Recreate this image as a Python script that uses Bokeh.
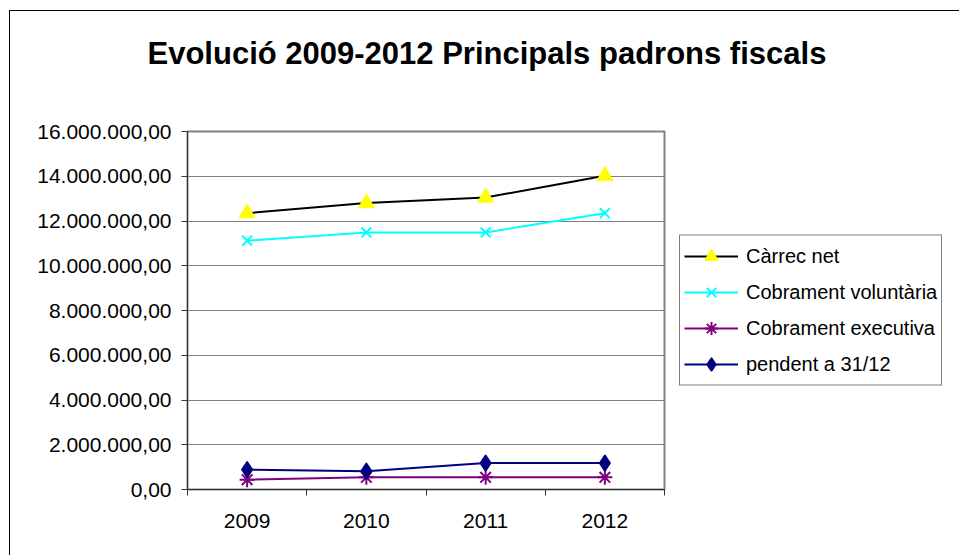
from bokeh.plotting import figure
from bokeh.models import FixedTicker, Legend, LegendItem, ColumnDataSource, Title
from bokeh.embed import file_html
from bokeh.resources import INLINE

# ---- data ----
years = ["2009", "2010", "2011", "2012"]
carrec_net = [12350000, 12800000, 13050000, 14020000]
cobrament_voluntaria = [11120000, 11490000, 11490000, 12350000]
cobrament_executiva = [440000, 545000, 545000, 545000]
pendent = [890000, 820000, 1180000, 1180000]

y_ticks = [0, 2000000, 4000000, 6000000, 8000000, 10000000, 12000000, 14000000, 16000000]
y_tick_labels = ["0,00", "2.000.000,00", "4.000.000,00", "6.000.000,00", "8.000.000,00",
                 "10.000.000,00", "12.000.000,00", "14.000.000,00", "16.000.000,00"]

title_text = "Evolució 2009-2012 Principals padrons fiscals"
series_names = ["Càrrec net", "Cobrament voluntària", "Cobrament executiva", "pendent a 31/12"]

# category centres on a numeric axis (one unit per category)
xs = [i + 0.5 for i in range(len(years))]

FONT = "Liberation Sans"

p = figure(frame_width=477, frame_height=358, output_backend="svg", toolbar_location=None,
           title_location=None,
           x_range=(0, len(years)), y_range=(y_ticks[0], y_ticks[-1]),
           min_border_left=177, min_border_top=120, min_border_right=292, min_border_bottom=66,
           styles={"margin-left": "9px", "margin-top": "10px",
                   "border-left": "1px solid #000", "border-top": "1px solid #000"})

# spacer between the frame and the title (nearest the frame)
spacer = Title(text=" ", text_font_size="1px", standoff=58)
p.add_layout(spacer, "above")

main_title = Title(text=title_text, text_font=FONT, text_font_size="31px",
                   text_font_style="bold", text_color="#000000",
                   align="left", offset=-40, standoff=0)
p.add_layout(main_title, "above")

p.background_fill_color = "white"
p.border_fill_color = "white"
p.outline_line_color = "#808080"
p.outline_line_width = 2

# y axis
p.yaxis.ticker = FixedTicker(ticks=y_ticks)
p.yaxis.major_label_overrides = {t: l for t, l in zip(y_ticks, y_tick_labels)}
p.yaxis.major_label_text_font = FONT
p.yaxis.major_label_text_font_size = "21px"
p.yaxis.major_label_text_color = "#000000"
p.yaxis.major_tick_out = 6
p.yaxis.major_tick_in = 0
p.yaxis.minor_tick_line_color = None
p.yaxis.axis_line_color = "#333333"
p.yaxis.major_tick_line_color = "#333333"
p.yaxis.major_label_standoff = 10

# x axis: labels at category centres, ticks at boundaries
p.xaxis.ticker = FixedTicker(ticks=xs, minor_ticks=list(range(len(years) + 1)))
p.xaxis.major_label_overrides = {x: y for x, y in zip(xs, years)}
p.xaxis.major_label_text_font = FONT
p.xaxis.major_label_text_font_size = "21px"
p.xaxis.major_label_text_color = "#000000"
p.xaxis.major_tick_line_color = None
p.xaxis.minor_tick_out = 6
p.xaxis.minor_tick_in = 0
p.xaxis.minor_tick_line_color = "#333333"
p.xaxis.axis_line_color = "#333333"
p.xaxis.major_label_standoff = 18

p.xgrid.grid_line_color = None
p.ygrid.ticker = FixedTicker(ticks=y_ticks)
p.ygrid.grid_line_color = "#808080"
p.ygrid.grid_line_width = 1

src = ColumnDataSource(dict(x=xs, c=carrec_net, v=cobrament_voluntaria,
                            e=cobrament_executiva, p=pendent))

l1 = p.line("x", "c", source=src, line_color="#000000", line_width=2)
m1 = p.scatter("x", "c", source=src, marker="triangle", size=16,
               fill_color="#FFFF00", line_color="#FFFF00")

l2 = p.line("x", "v", source=src, line_color="#00FFFF", line_width=2)
m2 = p.scatter("x", "v", source=src, marker="x", size=14,
               line_color="#00FFFF", line_width=2)

l3 = p.line("x", "e", source=src, line_color="#800080", line_width=2)
m3 = p.scatter("x", "e", source=src, marker="asterisk", size=15,
               line_color="#800080", line_width=2)

l4 = p.line("x", "p", source=src, line_color="#000080", line_width=2)
m4 = p.scatter("x", "p", source=src, marker="diamond", size=16,
               fill_color="#000080", line_color="#000080", line_width=1.5)

legend = Legend(items=[LegendItem(label=series_names[0], renderers=[l1, m1]),
                       LegendItem(label=series_names[1], renderers=[l2, m2]),
                       LegendItem(label=series_names[2], renderers=[l3, m3]),
                       LegendItem(label=series_names[3], renderers=[l4, m4])],
                location="left")
legend.border_line_color = "#000000"
legend.border_line_width = 1
legend.background_fill_color = "white"
legend.background_fill_alpha = 1
legend.label_text_font = FONT
legend.label_text_font_size = "20px"
legend.label_text_color = "#000000"
legend.glyph_width = 54
legend.glyph_height = 33
legend.label_standoff = 8
legend.padding = 4
legend.spacing = 3
legend.margin = 15
p.add_layout(legend, "right")

open("out.html", "w").write(file_html(p, INLINE))
